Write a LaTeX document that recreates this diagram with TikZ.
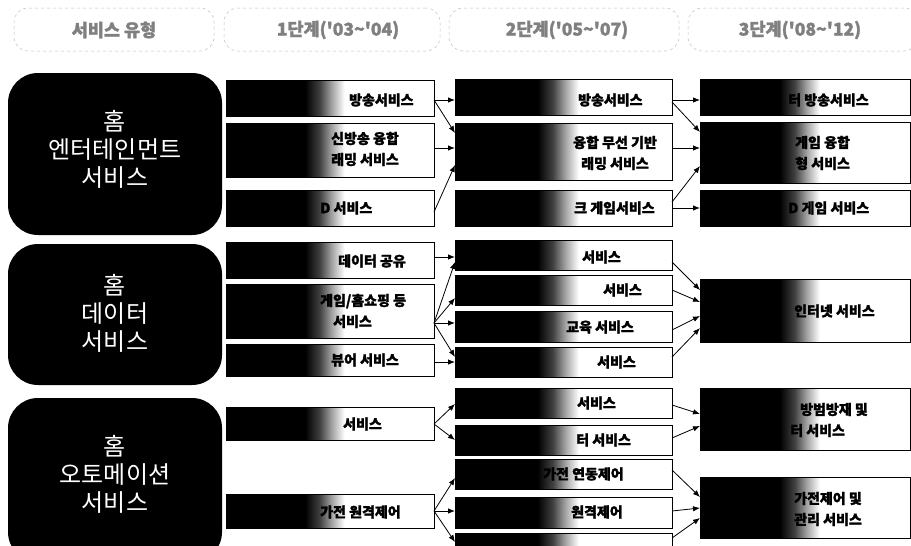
\documentclass[tikz,border=0pt]{standalone}
\usepackage{fontspec}
\newfontfamily\kr{Noto Sans CJK KR}
\newfontfamily\krh{Noto Sans CJK KR}[BoldFeatures={FakeBold=1.6}]
\usetikzlibrary{arrows.meta}
\pgfdeclarehorizontalshading{fadebox}{100bp}{color(0bp)=(black); color(25bp)=(black); color(44bp)=(black); color(47.5bp)=(black!75); color(50.5bp)=(black!35); color(53.5bp)=(white); color(100bp)=(white)}
\tikzset{
 gbox/.style={draw=black, line width=0.7pt, shade, shading=fadebox, inner sep=0pt, outer sep=0pt},
 btxt/.style={font=\krh\bfseries\fontsize{14}{21}\selectfont, anchor=west, inner sep=0pt, align=left, text=black},
 catbox/.style={fill=black, rounded corners=30pt, inner sep=0pt, outer sep=0pt},
 cattxt/.style={font=\kr\fontsize{24}{28}\selectfont, text=white, align=center, inner sep=0pt},
 hbox/.style={draw=gray!50, dashed, rounded corners=14pt, line width=0.5pt, inner sep=0pt},
 htxt/.style={font=\krh\bfseries\fontsize{17.5}{20}\selectfont, text=black!50, inner sep=0pt},
 arr/.style={-{Latex[length=7pt,width=5.5pt]}, line width=0.8pt}
}
\newcommand\gbx[5]{\node[gbox, minimum width={(#4-#2)*1pt}, minimum height={(#5-#3)*1pt}] (#1) at ({(#2+#4)/2},{(#3+#5)/2}) {};}
\newcommand\hbx[5]{\node[hbox, minimum width={(#4-#2)*1pt}, minimum height={(#5-#3)*1pt}] (#1) at ({(#2+#4)/2},{(#3+#5)/2}) {};}
\newcommand\cbx[5]{\node[catbox, minimum width={(#4-#2)*1pt}, minimum height={(#5-#3)*1pt}] (#1) at ({(#2+#4)/2},{(#3+#5)/2}) {};}
\begin{document}
\begin{tikzpicture}[x=1pt,y=-1pt]
\useasboundingbox (0,0) rectangle (911,546);
\clip (0,0) rectangle (911,546);
\fill[white] (0,0) rectangle (911,546);
% header
\hbx{h0}{14}{8}{214}{51}
\hbx{h1}{224}{8}{440}{51}
\hbx{h2}{449}{8}{679}{51}
\hbx{h3}{688}{8}{918}{51}
\node[htxt] (ht0) at (114,30) {서비스 유형};
\node[htxt] (ht1) at (338,30) {1단계('03\textasciitilde'04)};
\node[htxt] (ht2) at (567,30) {2단계('05\textasciitilde'07)};
\node[htxt] (ht3) at (800,30) {3단계('08\textasciitilde'12)};
% category boxes
\cbx{k1}{8}{73}{222}{235}
\cbx{k2}{8}{244}{222}{385}
\cbx{k3}{8}{398}{222}{562}
\node[cattxt] (kt1) at (115,149) {홈\\엔터테인먼트\\서비스};
\node[cattxt] (kt2) at (115,313) {홈\\데이터\\서비스};
\node[cattxt] (kt3) at (115,474) {홈\\오토메이션\\서비스};
% column 1
\gbx{c1a}{226}{80}{434}{116}
\gbx{c1b}{226}{123}{434}{177}
\gbx{c1c}{226}{190}{434}{226}
\gbx{c1d}{226}{242}{434}{278}
\gbx{c1e}{226}{284}{434}{338}
\gbx{c1f}{226}{344}{434}{376}
\gbx{c1g}{226}{407}{434}{440}
\gbx{c1h}{226}{494}{434}{528}
% column 2
\gbx{c2a}{455}{79}{672}{115}
\gbx{c2b}{455}{123}{672}{180}
\gbx{c2c}{455}{190}{672}{226}
\gbx{c2d}{455}{240}{672}{270}
\gbx{c2e}{455}{275}{672}{305}
\gbx{c2f}{455}{311}{672}{342}
\gbx{c2g}{455}{347}{672}{377}
\gbx{c2h}{455}{388}{672}{418}
\gbx{c2i}{455}{425}{672}{455}
\gbx{c2j}{455}{459}{672}{489}
\gbx{c2k}{455}{497}{672}{528}
\gbx{c2l}{455}{533}{672}{565}
% column 3
\gbx{c3a}{700}{79}{910}{115}
\gbx{c3b}{700}{122}{910}{183}
\gbx{c3c}{700}{190}{910}{226}
\gbx{c3d}{700}{279}{910}{342}
\gbx{c3e}{700}{388}{910}{450}
\gbx{c3f}{700}{477}{910}{538}
% texts column 1
\node[btxt] (t1a) at (349,100) {방송서비스};
\node[btxt] (t1b) at (331,149) {신방송 융합\\래밍 서비스};
\node[btxt] (t1c) at (320,208) {D 서비스};
\node[btxt] (t1d) at (338,261) {데이터 공유};
\node[btxt] (t1e) at (320,311) {게임/홈쇼핑 등\\\hspace*{13pt}서비스};
\node[btxt] (t1f) at (331,360) {뷰어 서비스};
\node[btxt] (t1g) at (343,424) {서비스};
\node[btxt] (t1h) at (320,512) {가전 원격제어};
% texts column 2
\node[btxt] (t2a) at (578,100) {방송서비스};
\node[btxt] (t2b) at (573,153) {융합 무선 기반\\\hspace*{8pt}래밍 서비스};
\node[btxt] (t2c) at (574,208) {크 게임서비스};
\node[btxt] (t2d) at (582,257) {서비스};
\node[btxt] (t2e) at (603,290) {서비스};
\node[btxt] (t2f) at (566,327) {교육 서비스};
\node[btxt] (t2g) at (597,362) {서비스};
\node[btxt] (t2h) at (577,403) {서비스};
\node[btxt] (t2i) at (576,440) {터 서비스};
\node[btxt] (t2j) at (543,474) {가전 연동제어};
\node[btxt] (t2k) at (571,512) {원격제어};
% texts column 3
\node[btxt] (t3a) at (788,100) {터 방송서비스};
\node[btxt] (t3b) at (795,153) {게임 융합\\형 서비스};
\node[btxt] (t3c) at (788,208) {D 게임 서비스};
\node[btxt] (t3d) at (794,311) {인터넷 서비스};
\node[btxt] (t3e) at (790,420) {\hspace*{10pt}방범방재 및\\터 서비스};
\node[btxt] (t3f) at (794,509) {가전제어 및\\관리 서비스};
% connectors entertainment
\draw[arr] (c1a.east |- 0,100) -- (c2a.west |- 0,100);
\draw[arr] (c1a.east |- 0,100) -- (c2b.west |- 0,133);
\draw[arr] (c1b.east |- 0,148) -- (c2b.west |- 0,148);
\draw[arr] (c1c.east |- 0,212) -- (c2b.west |- 0,165);
\draw[arr] (c2a.east |- 0,100) -- (c3a.west |- 0,100);
\draw[arr] (c2a.east |- 0,102) -- (c3b.west |- 0,132);
\draw[arr] (c2b.east |- 0,148) -- (c3b.west |- 0,148);
\draw[arr] (c2c.east |- 0,202) -- (c3b.west |- 0,166);
\draw[arr] (c2c.east |- 0,208) -- (c3c.west |- 0,208);
% connectors data
\draw[arr] (c1d.east |- 0,257) -- (c2d.west |- 0,257);
\draw[arr] (c1e.east |- 0,323) -- (c2d.west |- 0,262);
\draw[arr] (c1e.east |- 0,323) -- (c2e.west |- 0,298);
\draw[arr] (c1e.east |- 0,323) -- (c2f.west |- 0,323);
\draw[arr] (c1e.east |- 0,323) -- (c2g.west |- 0,357);
\draw[arr] (c1f.east |- 0,362) -- (c2g.west |- 0,362);
\draw[arr] (c2d.east |- 0,262) -- (c3d.west |- 0,290);
\draw[arr] (c2e.east |- 0,290) -- (c3d.west |- 0,302);
\draw[arr] (c2f.east |- 0,330) -- (c3d.west |- 0,316);
\draw[arr] (c2g.east |- 0,357) -- (c3d.west |- 0,328);
% connectors automation
\draw[arr] (c1g.east |- 0,424) -- (c2h.west |- 0,404);
\draw[arr] (c1g.east |- 0,424) -- (c2i.west |- 0,440);
\draw[arr] (c1h.east |- 0,511) -- (c2j.west |- 0,478);
\draw[arr] (c1h.east |- 0,511) -- (c2k.west |- 0,511);
\draw[arr] (c1h.east |- 0,511) -- (c2l.west |- 0,542);
\draw[arr] (c2h.east |- 0,405) -- (c3e.west |- 0,414);
\draw[arr] (c2i.east |- 0,438) -- (c3e.west |- 0,426);
\draw[arr] (c2j.east |- 0,470) -- (c3f.west |- 0,497);
\draw[arr] (c2k.east |- 0,511) -- (c3f.west |- 0,508);
\draw[arr] (c2l.east |- 0,538) -- (c3f.west |- 0,518);
\end{tikzpicture}
\end{document}
